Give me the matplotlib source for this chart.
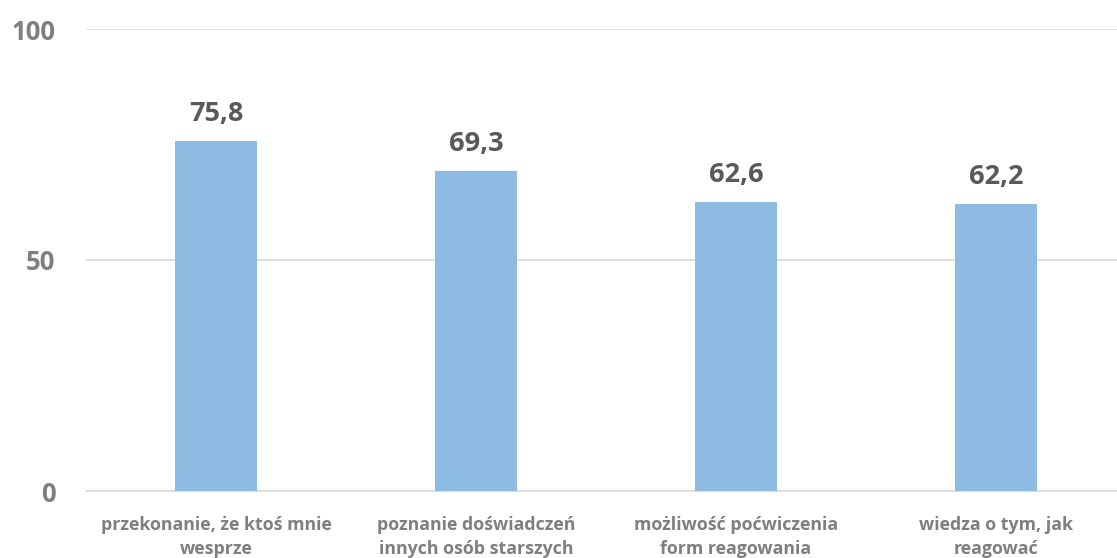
import matplotlib.pyplot as plt
import numpy as np

categories = ["przekonanie, że ktoś mnie\nwesprze",
              "poznanie doświadczeń\ninnych osób starszych",
              "możliwość poćwiczenia\nform reagowania",
              "wiedza o tym, jak\nreagować"]
values = [75.8, 69.3, 62.6, 62.2]
yticks = [0, 50, 100]

bar_color = "#8DBBE2"
grid_color = "#D9D9D9"

plt.rcParams['font.family'] = ['Open Sans', 'DejaVu Sans']

fig = plt.figure(figsize=(11.17, 5.58), dpi=100)
ax = fig.add_axes([86 / 1117, 67 / 558, 1040 / 1117, 462 / 558])

x = np.arange(len(values))
bars = ax.bar(x, values, width=0.315, color=bar_color, zorder=3)

for xi, v in zip(x, values):
    ax.text(xi, v + 3.0, f"{v:.1f}".replace(".", ","), ha="center", va="bottom",
            fontsize=19.5, fontweight="bold", color="#595959")

ax.set_xlim(-0.5, len(values) - 0.5)
ax.set_ylim(0, 100)
ax.set_yticks(yticks)
ax.set_yticklabels([str(t) for t in yticks], fontsize=18.5, fontweight="bold", color="#7F7F7F")
ax.set_xticks(x)
ax.set_xticklabels(categories, fontsize=12.8, fontweight="bold", color="#7F7F7F", linespacing=1.45)
ax.tick_params(axis="both", length=0)
ax.tick_params(axis="x", pad=18)
ax.tick_params(axis="y", pad=22)

ax.grid(axis="y", color=grid_color, linewidth=1.2, zorder=0)
for side in ["top", "right", "left"]:
    ax.spines[side].set_visible(False)
ax.spines["bottom"].set_color(grid_color)
ax.spines["bottom"].set_linewidth(1.2)

fig.savefig("out.png", dpi=100)
